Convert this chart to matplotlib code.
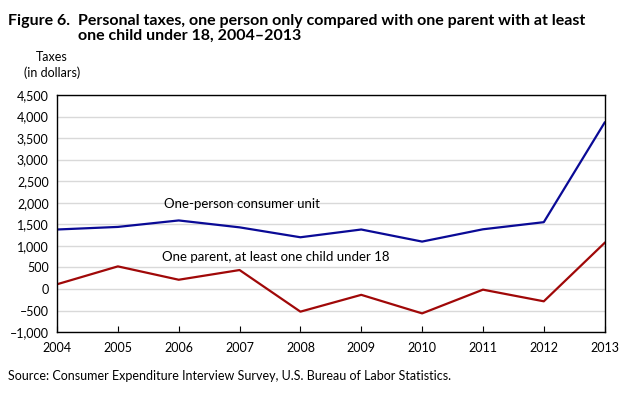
import matplotlib.pyplot as plt
from matplotlib.ticker import FuncFormatter

plt.rcParams['font.family'] = ['Lato', 'DejaVu Sans']

# Data
years = [2004, 2005, 2006, 2007, 2008, 2009, 2010, 2011, 2012, 2013]
one_person = [1380, 1440, 1590, 1430, 1200, 1380, 1100, 1385, 1550, 3860]
one_parent = [110, 525, 215, 440, -525, -135, -565, -15, -285, 1070]

blue = "#0a0a96"
red = "#a00808"

fig = plt.figure(figsize=(6.28, 3.94), dpi=100)
ax = fig.add_axes([0.0908, 0.157, 0.872, 0.602])

ax.plot(years, one_person, color=blue, lw=1.6)
ax.plot(years, one_parent, color=red, lw=1.6)

ax.set_xlim(2004, 2013)
ax.set_ylim(-1000, 4500)
ax.set_yticks(range(-1000, 4501, 500))
ax.set_xticks(years)
ax.yaxis.set_major_formatter(FuncFormatter(lambda v, p: f"{v:,.0f}".replace("-", "\u2013")))
ax.grid(axis="y", color="#d9d9d9", lw=1)
ax.set_axisbelow(True)
ax.tick_params(axis="y", length=0, labelsize=9, pad=6)
ax.tick_params(axis="x", direction="in", length=4, labelsize=9, pad=7)
for s in ax.spines.values():
    s.set_linewidth(1)

ax.text(2005.75, 1980, "One-person consumer unit", fontsize=9.5, va="center")
ax.text(2005.72, 740, "One parent, at least one child under 18", fontsize=9.5, va="center")

fig.text(0.013, 0.965, "Figure 6.", fontsize=11.5, fontweight="bold", va="top")
fig.text(0.124, 0.965, "Personal taxes, one person only compared with one parent with at least\none child under 18, 2004\u20132013",
         fontsize=11.5, fontweight="bold", va="top", linespacing=1.1)
fig.text(0.083, 0.87, "Taxes\n(in dollars)", fontsize=9, ha="center", va="top", linespacing=1.35)
fig.text(0.013, 0.045, "Source: Consumer Expenditure Interview Survey, U.S. Bureau of Labor Statistics.",
         fontsize=9, va="center")

fig.savefig("out.png", dpi=100)
